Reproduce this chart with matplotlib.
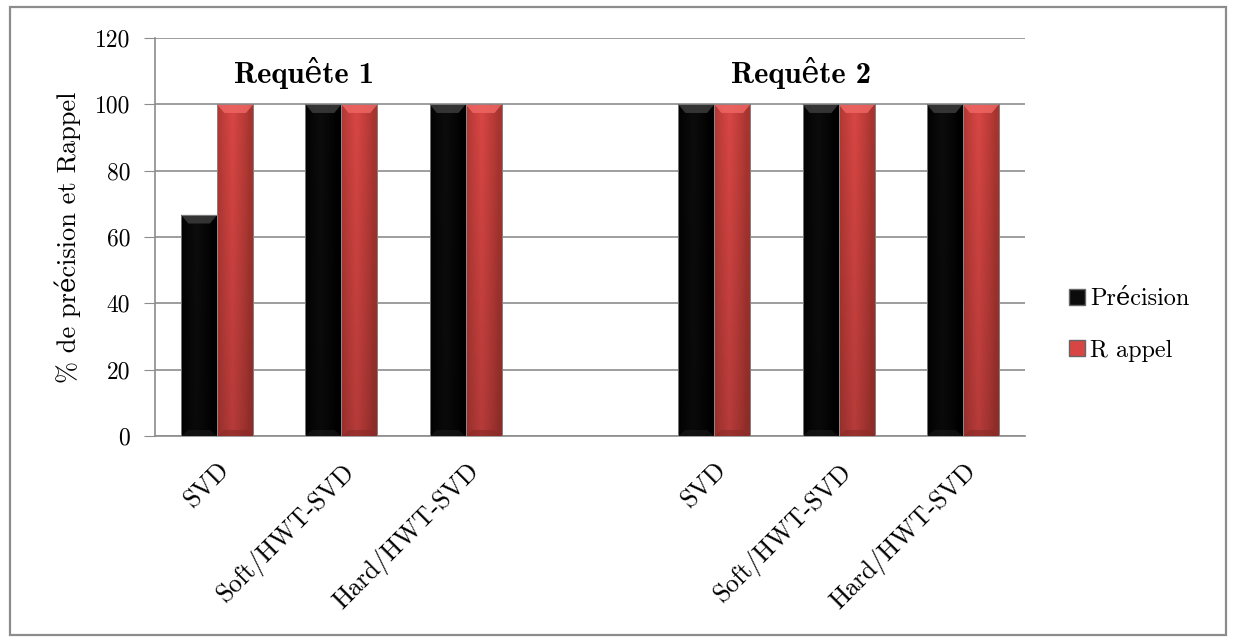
import numpy as np
import matplotlib
matplotlib.use("Agg")
import matplotlib.pyplot as plt
from matplotlib.patches import Rectangle, Polygon
from matplotlib.lines import Line2D

plt.rcParams['font.family'] = ['cmr10', 'DejaVu Serif']
plt.rcParams['axes.unicode_minus'] = False

categories = ["SVD", "Soft/HWT-SVD", "Hard/HWT-SVD", "",
              "SVD", "Soft/HWT-SVD", "Hard/HWT-SVD"]
precision = [66.67, 100, 100, np.nan, 100, 100, 100]
rappel = [100, 100, 100, np.nan, 100, 100, 100]
group_titles = ["Requête 1", "Requête 2"]
group_title_x = [0.7, 4.7]
series_labels = ["Précision", "R appel"]
yticks = [0, 20, 40, 60, 80, 100, 120]

fig = plt.figure(figsize=(12.33, 6.4), dpi=100)
ax = fig.add_axes([155 / 1233, 1 - 436 / 640, 870 / 1233, 398 / 640])

# outer chart frame
fig.patches.append(Rectangle((10 / 1233, 5 / 640), 1216 / 1233, 628 / 640,
                             transform=fig.transFigure, fill=False,
                             edgecolor='#8c8c8c', linewidth=1.6))

x = np.arange(len(categories))
w = 0.29


def shaded_bars(xs, vals, base, edge, light, dark):
    """Bars with a cylinder-like horizontal shading and bevelled ends."""
    bars = ax.bar(xs, vals, w, color=base, edgecolor='#777777', linewidth=0.6,
                  zorder=3)
    base_rgb = np.array(matplotlib.colors.to_rgb(base))
    edge_rgb = np.array(matplotlib.colors.to_rgb(edge))
    t = np.linspace(0, 1, 64)
    prof = np.clip(1 - np.abs(t - 0.42) * 2.2, 0, 1) ** 0.8
    v = np.linspace(0, 1, 64)[:, None]
    for b in bars:
        h = b.get_height()
        if not np.isfinite(h) or h <= 0:
            continue
        x0, bw = b.get_x(), b.get_width()
        row = edge_rgb[None, :] + (base_rgb - edge_rgb)[None, :] * prof[:, None]
        img = np.repeat(row[None, :, :], 64, axis=0)
        img = img * (0.84 + 0.16 * v[:, :, None])
        img = np.clip(img, 0, 1)
        im = ax.imshow(img, extent=(x0, x0 + bw, 0, h), origin='lower',
                       aspect='auto', zorder=3.5, interpolation='bilinear')
        im.set_clip_path(b)
        dy = 2.6
        top = Polygon([(x0, h), (x0 + bw, h), (x0 + bw * 0.8, h - dy),
                       (x0 + bw * 0.2, h - dy)], closed=True,
                      facecolor=light, edgecolor='none', alpha=0.85,
                      zorder=3.6)
        ax.add_patch(top)
        bot = Polygon([(x0, 0), (x0 + bw, 0), (x0 + bw * 0.8, dy * 0.7),
                       (x0 + bw * 0.2, dy * 0.7)], closed=True,
                      facecolor=dark, edgecolor='none', alpha=0.6,
                      zorder=3.6)
        ax.add_patch(bot)
        ax.add_patch(Rectangle((x0, 0), bw, h, fill=False,
                               edgecolor='#8a8a8a', linewidth=0.6, zorder=3.7))
    return bars


shaded_bars(x - w / 2, precision, '#0c0c0c', '#000000', '#3c3c3c', '#1a1a1a')
shaded_bars(x + w / 2, rappel, '#d84644', '#a83530', '#ee6663', '#8a2a26')

ax.set_xlim(-0.5, len(categories) - 0.5)
ax.set_ylim(0, 120)
ax.set_yticks(yticks)
ax.set_yticklabels([str(t) for t in yticks], fontsize=17)
ax.set_xticks(x)
ax.set_xticklabels(categories, rotation=45, ha='right', rotation_mode='anchor',
                   fontsize=18.5)
ax.tick_params(axis='x', length=0, pad=16)
ax.tick_params(axis='y', length=8, color='#8c8c8c', pad=10, direction='out')

ax.yaxis.grid(True, color='#8c8c8c', linewidth=1.2, zorder=0)
ax.set_axisbelow(True)
for side in ['top', 'right']:
    ax.spines[side].set_visible(False)
ax.spines['left'].set_color('#8c8c8c')
ax.spines['bottom'].set_color('#8c8c8c')
ax.spines['left'].set_linewidth(1.2)
ax.spines['bottom'].set_linewidth(1.2)

ax.set_ylabel("% de précision et Rappel", fontsize=19, labelpad=10)

for gx, gt in zip(group_title_x, group_titles):
    ax.text(gx, 109.5, gt, ha='center', va='center', fontsize=22,
            family=['cmb10', 'DejaVu Serif'])

handles = [Line2D([], [], marker='s', linestyle='none', markersize=12,
                  markerfacecolor=c, markeredgecolor='#666666')
           for c in ['#0c0c0c', '#d84644']]
fig.legend(handles, series_labels, loc='center left',
           bbox_to_anchor=(1043 / 1233, 1 - 325 / 640), frameon=False,
           fontsize=17.5, handletextpad=0.05, labelspacing=1.2,
           handlelength=1.0)

fig.savefig("out.png", dpi=100, facecolor='white')
